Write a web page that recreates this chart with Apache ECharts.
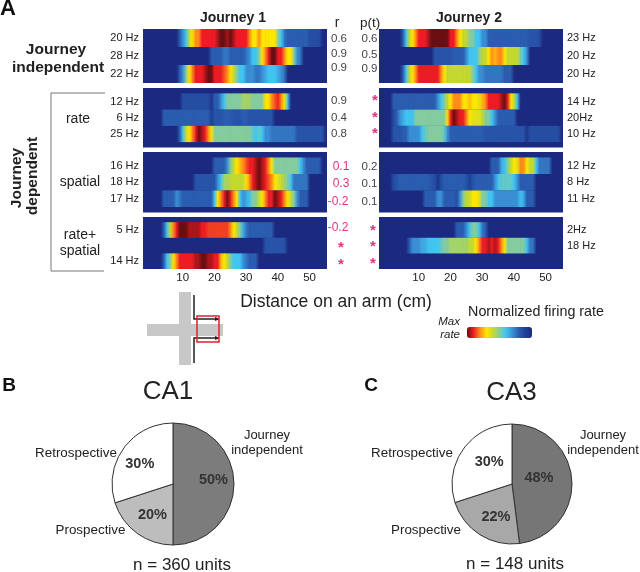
<!DOCTYPE html>
<html><head><meta charset="utf-8">
<style>html,body{margin:0;padding:0;background:#fff}#c{width:640px;height:572px}</style>
<script src="https://cdn.jsdelivr.net/npm/echarts@6/dist/echarts.min.js"></script>
</head><body><div id="c"></div>
<script>
// distance bins (cm)
const distance = [];
for (let d = -2; d <= 55; d++) distance.push(d);

// Journey 1 rates (0 = none, 10 = max rate)
const j1Indep = [
 [0,0,0,0,0,0,0,0,0,0, 0,2,3,4,6,7,8,8,9,9, 9,9,9,9.5,10,10,9.5,10,9.5,9, 9,9,9,8,7,7,8,7,7,7, 7,7,5,4,2.5,2,2,2,2,2, 2,2,1.5,1.5,1.5,1.5],
 [0,0,0,0,0,0,0,0,0,0, 0,0,0,0,0,0,0,0,0,0, 0,2,2,2,2,2.5,2.5,2,2,2, 2,2,2.5,3,4,4,5,7,8,9, 10,10,9,9,8,7,7,5,3,2.5],
 [0,0,0,0,0,0,0,0,0,0, 0,2,3,5,7,8,9,9,9,9.5, 10,10,9,9,9,8.5,8,7,6,5, 4,4,3,3,3,2.5,2.5,3,3.5,4, 4,4,3.5,3,2.5]
];
const j1Rate = [
 [0,0,0,0,0,0,0,0,0,0, 0,0,1.5,1.5,1.5,1.5,1.5,1.5,1.5,1.5, 1.5,0.5,2,2,3,4,5,5,5,5, 5,5.5,5.5,5.5,5,5,5,5,7,7, 8,8.5,9,8,7,4],
 [0,0,0,0,0,0,2,2,2,2, 2,2,2,2,2,2,2,2,2,2, 2,1,1.7,1.7,1.7,2,2,2,1.7,1.7, 1.7,2,2,1.7,1.7,1.7,1.7,1.7,1.7,1.7, 1.7],
 [0,0,0,0,0,0,0,0,0,0, 0,2,4,6,7,8,9,10,9.5,9, 8,7,5,5,5,5,5,5,5,5, 5,5,5,5,4.5,4,4.5,4,3,3, 2.5,2.5,2.5,2.5,2.5,2.5,2.5,2.5,1.7,1.7, 1.7,1.7,1.7,1.7,1.7,1.7,1.7]
];
const j1Spatial = [
 [0,0,0,0,0,0,0,0,0,0, 0,0,0,0,0,0,0,0,0,0, 0,0,2,2,2,2,3,5,6,7, 7.5,8,8.5,9,9,9.5,10,9.5,9,8, 7,5,5,5,5,5,5,5,5,4, 3,2,2,2,2,2],
 [0,0,0,0,0,0,0,0,0,0, 0,0,0,0,0,0,1.7,1.7,1.7,1.7, 1.7,1.7,1.7,3,4,5.5,5.5,6,6,6, 6,6,7,8,9,9.5,10,9.5,9,8.5, 8,7,6.5,6,5.5,5,4,2.5,2.5,2.5, 2.5,2.5],
 [0,0,0,0,0,0,2,2,2,2, 3,2.5,2,2,2,2,2,2,2,2, 2,2,4,7,8,9,10,9,8,7, 4,3,3.5,4,5,5,6,7,8,9, 9,10,9.5,9,8,7,6,5,3,2, 2,2]
];
const j1Both = [
 [0,0,0,0,0,0,2,4,6,8, 9,10,10,10,9.5,9.5,9.5,9.5,9,9, 8.7,8.7,8.7,8.7,8.7,8.7,8.7,8,7,6, 5,3.5,2.5,2,2,2,2,2,2,2, 2],
 [0,0,0,0,0,0,0,0,0,0, 0,0,0,0,0,0,0,0,0,0, 0,0,0,0,0,0,0,0,0,0, 0,0,0,0,0,0,0,0,1.7,1.7, 1.7,1.7,1.7,1.7,1.7],
 [0,0,0,0,0,0,2,4,5,7, 8,9,9,9,9,9,9.5,9.5,10,10, 9.5,9.5,9,9,7.5,7,6,5,4,4, 4,3,2.5,2,2,2]
];
// Journey 2 rates
const j2Indep = [
 [0,0,0,0,0,0,0,2,4,6, 7,8,9,9,9,9.5,10,10,10,10, 10,10,9,9,8,7,6,6,5,5, 4,4,3,3,2,2,2,2,2,2, 2,2,2,2,2,2,2,1.7,1.7,1.7, 1.5],
 [0,0,0,0,0,0,0,0,0,0, 0,0,0,0,0,0,0,1.7,1.7,1.7, 1.7,1.7,1.7,2,2,2,2,3,4,4, 4,5,6,6,7,8,7.5,8,8,7, 6,6,6,6,5,4,3],
 [0,0,0,0,0,0,0,2,4,6, 7,8,9,9,9,9,9,9,9,8, 7,6,6,6,6,6,6,6,6,5, 4,3,3,2.5,2.5,2.5,2.5,2.5,2.5,2,2,2]
];
const j2Rate = [
 [0,0,0,0,2,2,2,2,2,2, 2,2,2,2,2,2,2,2,3,4, 5,6,7,8,8,8,7,7,7.5,7, 7,6.5,7.5,8,9,9,9,9,9.5,10, 9,7,6,4],
 [0,0,0,0,1.5,2,3,3.5,4,4, 4,5,5,5,5,5,5,5,5,5, 5,7,9,10,9.5,9,9,8,7,6.5, 6.5,6.5,6,5,5,4,3,2,2,2, 2,2,2],
 [0,0,0,0,1.7,1.7,1.7,2,2,3, 3,3,3,4,4.5,5,5,5,5,5, 4.5,3,2,2,2,2,2,2,2,2, 2,2,2,1.7,1.7,1.7,1.7,1.7,1.7,1.7, 1.7,1.7,1.7,1.7,1.7,1.7,0.5,1.5,1.5,1.5, 1.5,1.5,1.5,1.5,1.5,1.5,1.5]
];
const j2Spatial = [
 [0,0,0,0,0,0,0,0,0,0, 0,0,0,0,0,0,0,0,0,0, 0,0,0,0,0,0,0,0,0,0, 0,0,0,0,0,2,2,2,3.5,4, 5,6,7,6.5,8,8,7,6,6,4, 2.5,2.5,2.5,2.5],
 [0,0,0,0,1.5,1.7,2,2,2,2, 2,2,2,2,2,2,1.7,1.5,0.5,1.5, 2,2,2,2,2,2,2,1.7,1,1.7, 2,2,2,2,2,2,3,4,4.5,4.5, 4.5,4.5,4,3,2,2,2,2,2],
 [0,0,0,0,0,0,0,0,0,0, 0,0,0,0,2,2,2,2,3,3, 2,2,2,2,1.5,3,5,6,6,7, 7,6.5,5,5,4,4,3,3,3,3, 3,3,3,3,4,3.5,2,2,2]
];
const j2Both = [
 [0,0,0,0,0,0,0,0,0,0, 0,0,0,0,0,0,0,0,0,0, 0,0,0,0,2,2,2,3,4,5, 5,4,2.5,2],
 [0,0,0,0,0,0,0,0,0,2, 3,3,3,3.5,3.5,4,4,4,4,4.5, 5,5,5.5,5.5,5.5,5.5,5.5,5.5,6,6, 7,8,9,9,9.5,9,9.5,9,8,7, 5,5,5,5,5,5,4,2.5,2.5],
 []
];

const j1Hz = [['20 Hz','28 Hz','22 Hz'],['12 Hz','6 Hz','25 Hz'],['16 Hz','18 Hz','17 Hz'],['5 Hz','','14 Hz']];
const j2Hz = [['23 Hz','20 Hz','20 Hz'],['14 Hz','20Hz','10 Hz'],['12 Hz','8 Hz','11 Hz'],['2Hz','18 Hz','']];
const tickLabels = ['10','20','30','40','50'];
const rValues = ['0.6','0.9','0.9','0.9','0.4','0.8','0.1','0.3','-0.2','-0.2','*','*'];
const pValues = ['0.6','0.5','0.9','*','*','*','0.2','0.1','0.1','*','*','*'];
const ca1Values = [50,20,30];
const ca3Values = [48,22,30];

// ---- layout and style ----
const colorScale = ['#1b2a80','#1f3f96','#2a5cb0','#3a8fd4','#40c4f0','#84cca0','#c4d930','#ffe600','#ff8c1a','#ed1c24','#6a0e12'];
const NAVY = '#1b2a80';
const panels = [
  {top:29, height:54, pad:[0,0], sub:1},
  {top:88, height:59.5, pad:[1,1], sub:3},
  {top:152, height:60.5, pad:[1,1], sub:3},
  {top:217, height:52, pad:[1,0], sub:3}
];
const journeys = [
  {left:143, rows:[j1Indep,j1Rate,j1Spatial,j1Both], hz:j1Hz, side:'left'},
  {left:379, rows:[j2Indep,j2Rate,j2Spatial,j2Both], hz:j2Hz, side:'right'}
];
const FONT = '"Liberation Sans", Arial, sans-serif';
const grid=[], xAxis=[], yAxis=[], series=[];
const colorOf = v => echarts.color.lerp(v/10, colorScale);
function renderCell(params, api){
  const x0 = api.coord([api.value(0), api.value(1)]);
  const x1 = api.coord([api.value(0)+1, api.value(1)]);
  const band = api.size([1,1]);
  const span = api.value(4);
  const h = band[1]*span;
  const rs = echarts.graphic.clipRectByRect({x:x0[0], y:x0[1]-h/2, width:x1[0]-x0[0]+0.6, height:h},
    {x:params.coordSys.x, y:params.coordSys.y, width:params.coordSys.width, height:params.coordSys.height});
  if(!rs) return;
  return {type:'rect', shape:{x:rs.x,y:rs.y,width:rs.width,height:rs.height}, silent:true, style:{
    fill:new echarts.graphic.LinearGradient(0,0,1,0,[{offset:0,color:colorOf(api.value(2))},{offset:1,color:colorOf(api.value(3))}])}};
}
journeys.forEach(J => {
  panels.forEach((P,pi) => {
    const gi = grid.length;
    grid.push({left:J.left, top:P.top, width:184, height:P.height, show:true, backgroundColor:NAVY, borderWidth:0});
    xAxis.push({type:'category', gridIndex:gi, data:distance.map(String), position:'bottom',
      axisLine:{show:false}, axisTick:{show:false}, splitLine:{show:false},
      axisLabel:{show:pi===3, interval:(i,v)=>tickLabels.includes(v), margin:3, fontSize:11.5, color:'#222', fontFamily:FONT}});
    const cats=[], labels=[], data=[];
    for(let k=0;k<P.pad[0];k++){cats.push('pad'+cats.length);labels.push('');}
    J.rows[pi].forEach((row,ri)=>{
      for(let s=0;s<P.sub;s++){
        const y=cats.length; cats.push('r'+y);
        const mid = s===Math.floor(P.sub/2);
        labels.push(mid?J.hz[pi][ri]:'');
        if(mid) distance.forEach((d,xi)=>{
          const v=row[xi]||0, n=row[xi+1]||0;
          if(v>0||n>0) data.push([xi,y,v,n,P.sub]);
        });
      }
    });
    for(let k=0;k<P.pad[1];k++){cats.push('pad'+cats.length);labels.push('');}
    yAxis.push({type:'category', gridIndex:gi, data:cats, inverse:true, position:J.side,
      axisLine:{show:false}, axisTick:{show:false}, splitLine:{show:false},
      axisLabel:{interval:0, margin:4, fontSize:11, color:'#222', fontFamily:FONT, formatter:(v,i)=>labels[i]||''}});
    series.push({type:'custom', xAxisIndex:gi, yAxisIndex:gi, data, renderItem:renderCell, silent:true, progressive:0,
      encode:{x:0,y:1}, emphasis:{disabled:true}});
  });
});
const heatCount = series.length;

function pie(center, r, values, colors, offsets){
  return {type:'pie', center, radius:r, startAngle:90, clockwise:true, silent:true, animation:false,
    data:values.map((v,i)=>({value:v,itemStyle:{color:colors[i]}})),
    itemStyle:{borderColor:'#333',borderWidth:1},
    label:{show:true, position:'inner', formatter:'{c}%', fontFamily:FONT, fontWeight:'bold', fontSize:14.5, color:'#333'},
    labelLine:{show:false},
    labelLayout:p=>({dx:offsets[p.dataIndex][0], dy:offsets[p.dataIndex][1]})};
}
series.push(pie([173,484],61,ca1Values,['#7c7c7c','#bdbdbd','#ffffff'],[[7,-4],[-0.9,4.1],[-6.1,0.1]]));
series.push(pie([512,484],60,ca3Values,['#767676','#a8a8a8','#ffffff'],[[-6,-3.6],[1.6,5.4],[3.9,-2.9]]));

function T(text,x,y,opt){
  opt=opt||{};
  return {type:'text', x, y, rotation:opt.rotation||0, z:10, silent:true, style:{
    text, x:0, y:0, align:opt.align||'center', verticalAlign:'middle',
    fontFamily:FONT, fontSize:opt.size||12, fontWeight:opt.weight||'normal', fontStyle:opt.style||'normal',
    fill:opt.color||'#222'}};
}
const PINK='#e2337f';
const rY=[39,54,68,101,118,134,167,184,202,228,245,262];
const pY=[39,55,69,98,115,131,167,184,202,228,244,261];
const g=[];
rValues.forEach((v,i)=>{
  const star=v==='*', pink=i>=6;
  g.push(T(v,star?341:(v[0]==='-'?338:(pink?341:339)),rY[i]+(star?3:0),{size:star?15:(pink?12:11.5),color:pink?PINK:'#444',weight:star?'bold':'normal'}));
});
pValues.forEach((v,i)=>{
  const star=v==='*';
  g.push(T(v,star?(i<6?375:373):369.5,pY[i]+(star?3:0),{size:star?15:11.5,color:star?PINK:'#444',weight:star?'bold':'normal'}));
});
g.push(
  T('A',8,9,{size:22,weight:'bold',color:'#111'}),
  T('Journey 1',233,18,{size:14,weight:'bold'}),
  T('Journey 2',469,18,{size:14,weight:'bold'}),
  T('r',337,23,{size:14}),
  T('p(t)',370,23,{size:13.5}),
  T('Journey',56,50,{size:15.5,weight:'bold'}),
  T('independent',58,68,{size:15.5,weight:'bold'}),
  T('Journey',17,178,{size:15.5,weight:'bold',rotation:Math.PI/2}),
  T('dependent',33,176,{size:15.5,weight:'bold',rotation:Math.PI/2}),
  T('rate',78,119,{size:14}),
  T('spatial',80,182,{size:14}),
  T('rate+',80,235,{size:14}),
  T('spatial',80,251,{size:14}),
  T('Distance on an arm (cm)',336,302,{size:17.5}),
  T('Normalized firing rate',536,312,{size:14.3}),
  T('Max',460,322,{size:11.5,style:'italic',align:'right'}),
  T('rate',460,335,{size:11.5,style:'italic',align:'right'}),
  T('B',9,386,{size:19,weight:'bold',color:'#111'}),
  T('C',371,386,{size:19,weight:'bold',color:'#111'}),
  T('CA1',168,392,{size:26}),
  T('CA3',511.5,393,{size:26}),
  T('n = 360 units',182,565,{size:17}),
  T('n = 148 units',515,564,{size:17}),
  T('Journey',267,435,{size:13}),
  T('independent',267,450,{size:13}),
  T('Retrospective',76,453,{size:13.4}),
  T('Prospective',90.5,530,{size:13.4}),
  T('Journey',603,435,{size:13}),
  T('independent',603,450,{size:13}),
  T('Retrospective',412,453,{size:13.4}),
  T('Prospective',426,530,{size:13.4})
);
// bracket on the left
const bracket={stroke:'#777',lineWidth:1,fill:null};
g.push({type:'polyline',silent:true,shape:{points:[[105,93],[51,93],[51,271],[104,271]]},style:bracket});
// maze sketch
g.push(
  {type:'rect',silent:true,shape:{x:179,y:292,width:12,height:73},style:{fill:'#c8c8c8'}},
  {type:'rect',silent:true,shape:{x:147,y:324,width:76,height:12},style:{fill:'#c8c8c8'}},
  {type:'polyline',silent:true,shape:{points:[[194,295],[194,319],[216,319]]},style:{stroke:'#222',lineWidth:1.5,fill:null}},
  {type:'polyline',silent:true,shape:{points:[[194,363],[194,338],[216,338]]},style:{stroke:'#222',lineWidth:1.5,fill:null}},
  {type:'polygon',silent:true,shape:{points:[[220,319],[215,317],[215,321]]},style:{fill:'#222'}},
  {type:'polygon',silent:true,shape:{points:[[220,338],[215,336],[215,340]]},style:{fill:'#222'}},
  {type:'rect',silent:true,shape:{x:197,y:316,width:22,height:26},style:{fill:null,stroke:'#e0202a',lineWidth:1.5}}
);

const chart=echarts.init(document.getElementById('c'),null,{renderer:'canvas'});
chart.setOption({
  animation:false, backgroundColor:'#fff',
  grid, xAxis, yAxis, series, graphic:{elements:g},
  visualMap:{type:'continuous', min:0, max:10, dimension:2, seriesIndex:series.map((_,i)=>i).slice(0,heatCount),
    orient:'horizontal', inverse:true, calculable:false, left:467, top:327, padding:0, itemWidth:11, itemHeight:65,
    showLabel:false, inRange:{color:colorScale}, hoverLink:false}
});
</script></body></html>
